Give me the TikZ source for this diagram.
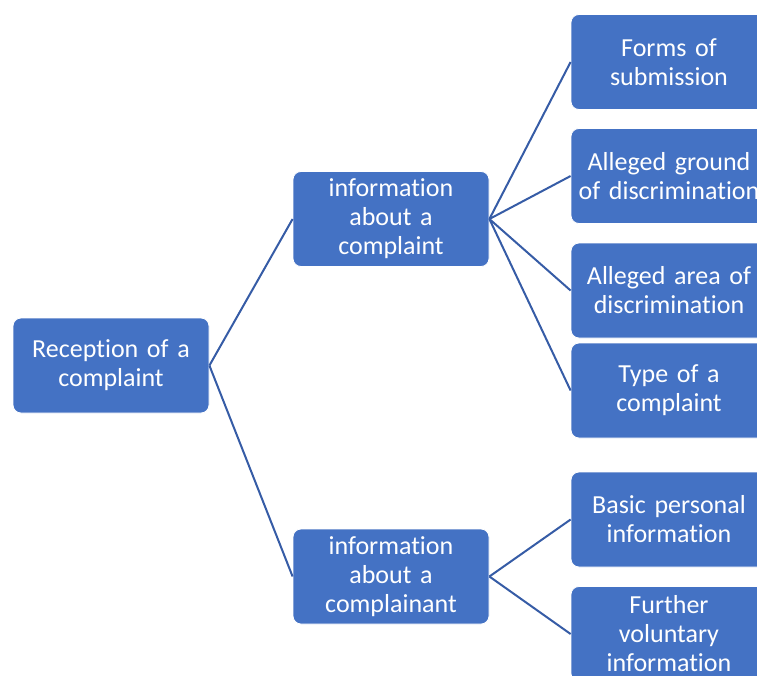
\documentclass[tikz,border=0pt]{standalone}
\usepackage{fontspec}
\setmainfont{Carlito}[RawFeature=-liga]
\definecolor{boxblue}{RGB}{68,114,196}
\definecolor{linkblue}{RGB}{54,92,166}
\begin{document}
\begin{tikzpicture}[x=1pt,y=-1pt,
  box/.style={rectangle, rounded corners=8pt, fill=boxblue, draw=white, line width=0.8pt,
    minimum width=196pt, minimum height=95pt, text width=194pt, align=center,
    text=white, inner sep=0pt, font=\fontsize{26}{29}\selectfont},
  link/.style={draw=linkblue, line width=2pt}]
\useasboundingbox (0,0) rectangle (757,675);
\clip (0,0) rectangle (757,675);
% root
\node[box] (root) at (111,365.5) {Reception of a\\complaint};
% second level
\node[box] (comp) at (391,219) {information\\about a\\complaint};
\node[box] (pers) at (391,576.5) {information\\about a\\complainant};
% leaves
\node[box] (forms) at (669,62) {Forms of\\submission};
\node[box] (ground) at (669,176) {Alleged ground\\of discrimination};
\node[box] (area) at (669,290.5) {Alleged area of\\discrimination};
\node[box] (type) at (669,390.5) {Type of a\\complaint};
\node[box] (basic) at (669,519.5) {Basic personal\\information};
\node[box] (further) at (669,634) {Further\\voluntary\\information};
% connectors
\draw[link] (root.east) -- (comp.west);
\draw[link] (root.east) -- (pers.west);
\foreach \t in {forms,ground,area,type}
  \draw[link] (comp.east) -- (\t.west);
\foreach \t in {basic,further}
  \draw[link] (pers.east) -- (\t.west);
\end{tikzpicture}
\end{document}
